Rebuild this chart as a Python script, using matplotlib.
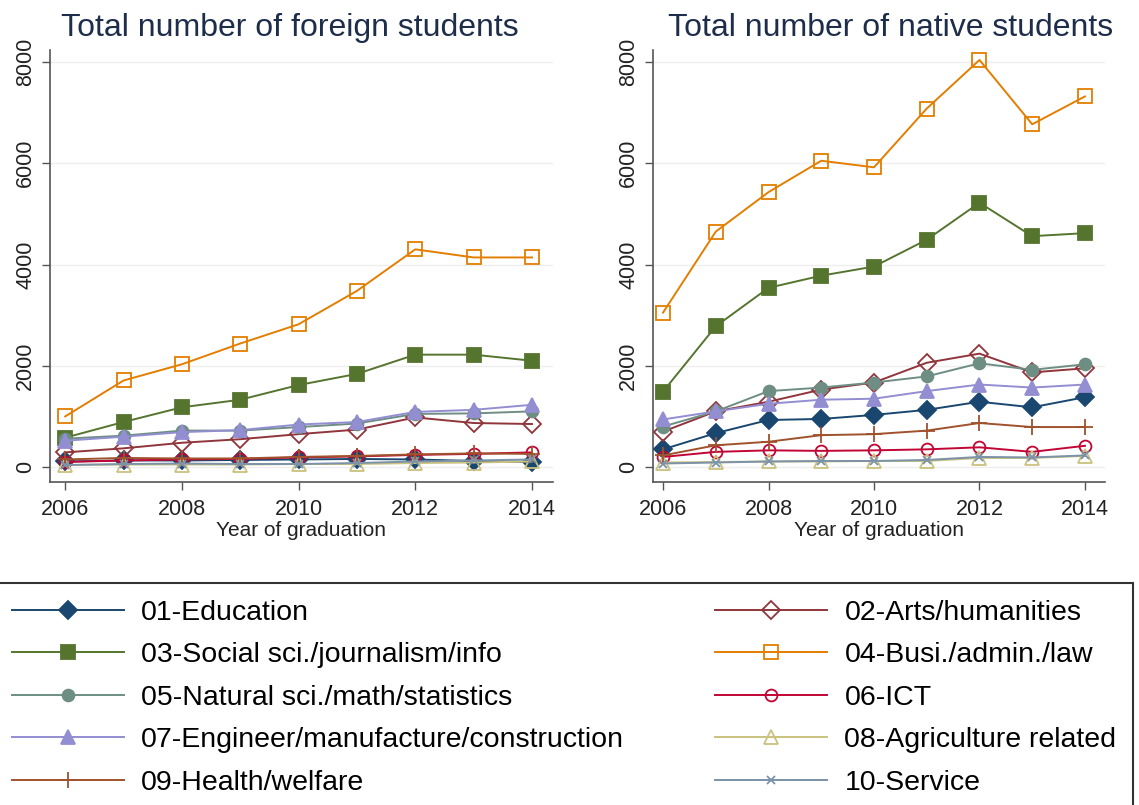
import numpy as np
import matplotlib
matplotlib.use('Agg')
import matplotlib.pyplot as plt
from matplotlib.lines import Line2D

plt.rcParams['font.family'] = ['Liberation Sans', 'DejaVu Sans']

years = [2006, 2007, 2008, 2009, 2010, 2011, 2012, 2013, 2014]

labels = ['01-Education', '02-Arts/humanities', '03-Social sci./journalism/info',
          '04-Busi./admin./law', '05-Natural sci./math/statistics', '06-ICT',
          '07-Engineer/manufacture/construction', '08-Agriculture related',
          '09-Health/welfare', '10-Service']

# foreign students
f_edu = [110, 130, 130, 140, 150, 160, 150, 120, 100]
f_arts = [290, 370, 480, 550, 650, 740, 980, 870, 850]
f_soc = [580, 890, 1180, 1330, 1620, 1840, 2220, 2220, 2100]
f_busi = [1000, 1710, 2030, 2440, 2820, 3480, 4300, 4140, 4140]
f_nat = [560, 620, 720, 720, 790, 860, 1050, 1060, 1100]
f_ict = [100, 130, 150, 160, 190, 210, 240, 260, 290]
f_eng = [520, 600, 690, 730, 840, 890, 1090, 1130, 1230]
f_agr = [40, 50, 50, 50, 60, 60, 80, 90, 110]
f_hea = [150, 180, 170, 170, 200, 220, 250, 270, 260]
f_ser = [40, 60, 70, 60, 60, 80, 110, 130, 150]

# native students
n_edu = [350, 670, 930, 950, 1030, 1130, 1290, 1180, 1380]
n_arts = [700, 1100, 1290, 1530, 1670, 2060, 2240, 1870, 1950]
n_soc = [1490, 2780, 3540, 3780, 3960, 4490, 5220, 4560, 4620]
n_busi = [3050, 4650, 5430, 6050, 5920, 7080, 8040, 6770, 7320]
n_nat = [800, 1100, 1500, 1570, 1670, 1790, 2050, 1920, 2030]
n_ict = [200, 300, 330, 320, 330, 350, 390, 300, 420]
n_eng = [940, 1100, 1250, 1330, 1350, 1500, 1630, 1570, 1630]
n_agr = [90, 100, 110, 110, 120, 120, 180, 180, 220]
n_hea = [230, 430, 500, 630, 650, 720, 870, 790, 790]
n_ser = [70, 90, 110, 120, 120, 140, 200, 190, 230]

foreign = [f_edu, f_arts, f_soc, f_busi, f_nat, f_ict, f_eng, f_agr, f_hea, f_ser]
native = [n_edu, n_arts, n_soc, n_busi, n_nat, n_ict, n_eng, n_agr, n_hea, n_ser]

# stata s2color style
colors = ['#1a476f', '#90353b', '#55752f', '#e37e00', '#6e8e84',
          '#c10534', '#938dd2', '#cac27e', '#a0522d', '#7b92a8']
markers = ['D', 'D', 's', 's', 'o', 'o', '^', '^', '+', 'x']
filled = [True, False, True, False, True, False, True, False, True, True]
msizes = [9.5, 9.5, 9.5, 9.5, 8.5, 8.5, 9.5, 9.5, 11, 6]

title_col = '#1e2d4a'
fig = plt.figure(figsize=(11.39, 8.05), dpi=100)

ax1 = fig.add_axes([50 / 1139, 1 - 482 / 805, 503 / 1139, 432 / 805])
ax2 = fig.add_axes([653 / 1139, 1 - 482 / 805, 452 / 1139, 432 / 805])


def draw_panel(ax, data, title, tx):
    for i in range(len(data)):
        ax.plot(years, data[i], color=colors[i], lw=1.4, marker=markers[i],
                ms=msizes[i], mec=colors[i],
                mfc=colors[i] if filled[i] else 'none', mew=1.3, zorder=3)
    ax.set_ylim(-295, 8237)
    ax.set_yticks([0, 2000, 4000, 6000, 8000])
    ax.set_xticks([2006, 2008, 2010, 2012, 2014])
    ax.grid(axis='y', color='#eeeeee', lw=1.0)
    ax.set_axisbelow(True)
    for s in ['top', 'right']:
        ax.spines[s].set_visible(False)
    for s in ['left', 'bottom']:
        ax.spines[s].set_color('#555555')
        ax.spines[s].set_linewidth(1.2)
    ax.tick_params(axis='both', labelsize=15.5, length=6, color='#555555',
                   labelcolor='#222222', width=1.0)
    ax.tick_params(axis='x', pad=6)
    ax.tick_params(axis='y', pad=4)
    for lab in ax.get_yticklabels():
        lab.set_rotation(90)
        lab.set_va('center')
    ax.set_xlabel('Year of graduation', fontsize=15, color='#222222', labelpad=1)
    ax.set_title(title, fontsize=23, color=title_col, x=tx, pad=10)


draw_panel(ax1, foreign, 'Total number of foreign students', 0.477)
ax1.set_xlim(2005.74, 2014.36)
draw_panel(ax2, native, 'Total number of native students', 0.525)
ax2.set_xlim(2005.81, 2014.38)

# legend, two columns (odd codes left, even codes right)
order = [0, 2, 4, 6, 8, 1, 3, 5, 7, 9]
handles = []
for i in order:
    handles.append(Line2D([0], [0], color=colors[i], lw=1.4, marker=markers[i],
                          ms=msizes[i], mec=colors[i],
                          mfc=colors[i] if filled[i] else 'none', mew=1.3))
leg = fig.legend(handles, [labels[i] for i in order], ncol=2, mode='expand',
                 loc='upper left', bbox_to_anchor=(-5 / 1139, 0.0, 1138 / 1139, 1 - 583 / 805),
                 borderaxespad=0, fontsize=20.5, handlelength=3.95, handletextpad=0.6,
                 labelspacing=0.58, borderpad=0.58, fancybox=False,
                 edgecolor='#333333', framealpha=1)
leg.get_frame().set_linewidth(1.5)

fig.savefig('out.png', dpi=100)
